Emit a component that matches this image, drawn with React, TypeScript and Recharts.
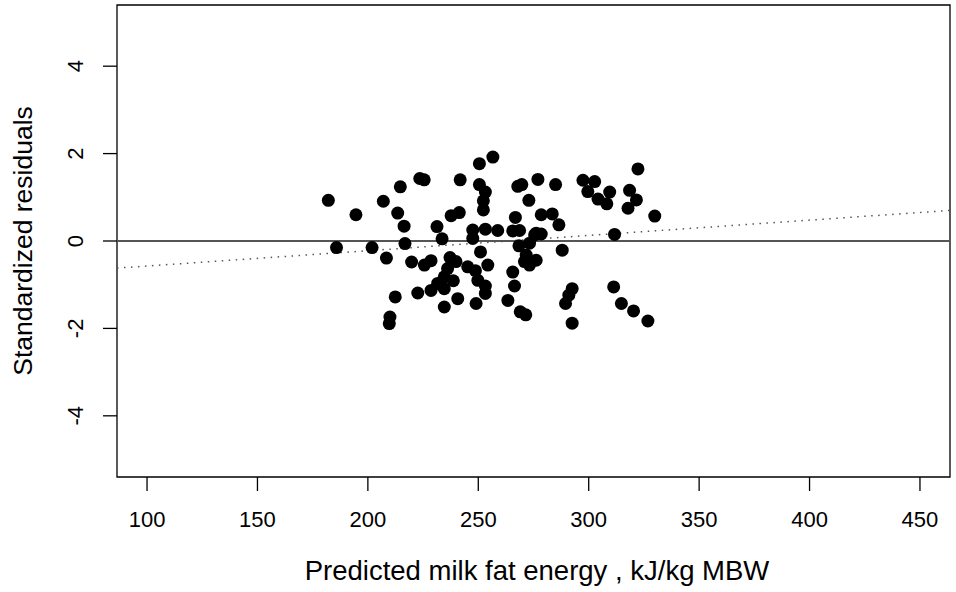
import { ScatterChart, Scatter, XAxis, YAxis, ReferenceLine, ReferenceArea, Label } from "recharts";

// predicted milk fat energy (kJ/kg MBW)
const predicted = [
  182.1, 185.8, 194.6, 201.9, 207.0, 208.4, 209.7, 210.0, 212.4, 213.5,
  214.7, 216.4, 216.8, 219.8, 222.6, 223.5, 225.5, 225.6, 228.6, 228.6,
  231.3, 231.6, 233.6, 234.6, 234.6, 234.6, 236.1, 237.2, 237.7, 238.7,
  239.9, 240.7, 241.4, 241.8, 245.2, 247.5, 247.5, 248.7, 249.0, 249.8,
  250.5, 250.5, 251.0, 252.3, 252.3, 253.2, 253.2, 253.2, 253.2, 254.3,
  256.6, 258.8, 263.4, 265.6, 265.6, 266.4, 266.8, 267.9, 268.4, 268.7,
  269.0, 269.7, 270.9, 271.5, 271.7, 272.9, 273.2, 273.2, 275.5, 276.2,
  276.2, 277.0, 278.5, 278.5, 283.5, 285.0, 286.5, 288.0, 289.5, 291.0,
  292.5, 292.5, 297.4, 299.6, 302.7, 304.2, 308.2, 309.5, 311.3, 311.7,
  314.8, 317.8, 318.5, 320.3, 321.6, 322.3, 326.8, 329.9,
];

// standardized residuals
const residuals = [
  0.93, -0.15, 0.6, -0.15, 0.91, -0.39, -1.89, -1.74, -1.28, 0.64,
  1.24, 0.34, -0.06, -0.48, -1.19, 1.43, 1.4, -0.55, -0.45, -1.13,
  0.33, -0.97, 0.05, -0.82, -1.09, -1.51, -0.63, -0.38, 0.58, -0.91,
  -0.47, -1.32, 0.65, 1.4, -0.59, 0.25, 0.06, -0.68, -1.43, -0.9,
  1.77, 1.29, -0.25, 0.92, 0.71, 1.12, 0.27, -1.03, -1.2, -0.55,
  1.92, 0.24, -1.36, 0.23, -0.71, -1.03, 0.54, 1.25, -0.11, 0.24,
  -1.62, 1.29, -0.47, -1.69, -0.32, 0.93, -0.05, -0.55, 0.14, 0.18,
  -0.44, 1.41, 0.6, 0.16, 0.62, 1.29, 0.37, -0.21, -1.43, -1.24,
  -1.09, -1.88, 1.39, 1.13, 1.36, 0.96, 0.85, 1.12, -1.05, 0.15,
  -1.43, 0.75, 1.16, -1.6, 0.94, 1.65, -1.83, 0.57,
];

const xTicks = [100, 150, 200, 250, 300, 350, 400, 450];
const yTicks = [-4, -2, 0, 2, 4];
const xDomain = [86.4, 463.6];
const yDomain = [-5.4, 5.4];

// fitted trend of residuals on predicted values (dotted)
const trend = [
  { x: 86.4, y: -0.62 },
  { x: 463.6, y: 0.7 },
];

const points = predicted.map((x, i) => ({ x, y: residuals[i] }));

const font = "'Liberation Sans', Arial, Helvetica, sans-serif";

const XTick = ({ x, y, payload }: any) => (
  <text x={x} y={y + 36} textAnchor="middle" fontFamily={font} fontSize={22} fill="#000">
    {payload.value}
  </text>
);

const YTick = ({ x, y, payload }: any) => (
  <text
    x={x - 20}
    y={y}
    textAnchor="middle"
    transform={`rotate(-90, ${x - 20}, ${y})`}
    fontFamily={font}
    fontSize={22}
    fill="#000"
  >
    {payload.value}
  </text>
);

const Dot = ({ cx, cy }: any) => <circle cx={cx} cy={cy} r={6.5} fill="#000" />;

export default function App() {
  return (
    <div style={{ position: "absolute", left: 0, top: 0, background: "#fff" }}>
      <ScatterChart width={956} height={592} margin={{ top: 5, right: 6, bottom: 0, left: 0 }}>
        <XAxis
          type="number"
          dataKey="x"
          domain={xDomain}
          ticks={xTicks}
          allowDataOverflow
          height={115}
          tickSize={14}
          tickMargin={0}
          tick={<XTick />}
          axisLine={false}
          tickLine={{ stroke: "#000", strokeWidth: 1.3 }}
        >
          <Label
            content={() => (
              <text x={537} y={580} textAnchor="middle" fontFamily={font} fontSize={27.5} fill="#000">
                Predicted milk fat energy , kJ/kg MBW
              </text>
            )}
          />
        </XAxis>
        <YAxis
          type="number"
          dataKey="y"
          domain={yDomain}
          ticks={yTicks}
          allowDataOverflow
          width={117}
          tickSize={14}
          tickMargin={0}
          tick={<YTick />}
          axisLine={false}
          tickLine={{ stroke: "#000", strokeWidth: 1.3 }}
        >
          <Label
            content={() => (
              <text
                x={32}
                y={241}
                textAnchor="middle"
                transform="rotate(-90, 32, 241)"
                fontFamily={font}
                fontSize={26.5}
                fill="#000"
              >
                Standardized residuals
              </text>
            )}
          />
        </YAxis>
        <ReferenceArea
          x1={xDomain[0]}
          x2={xDomain[1]}
          y1={yDomain[0]}
          y2={yDomain[1]}
          fill="none"
          stroke="#000"
          strokeWidth={1.3}
          ifOverflow="visible"
        />
        <ReferenceLine y={0} stroke="#555" strokeWidth={2} />
        <ReferenceLine segment={trend} stroke="#555" strokeWidth={1.5} strokeDasharray="1.5 5.5" />
        <Scatter data={points} shape={<Dot />} isAnimationActive={false} />
      </ScatterChart>
    </div>
  );
}
